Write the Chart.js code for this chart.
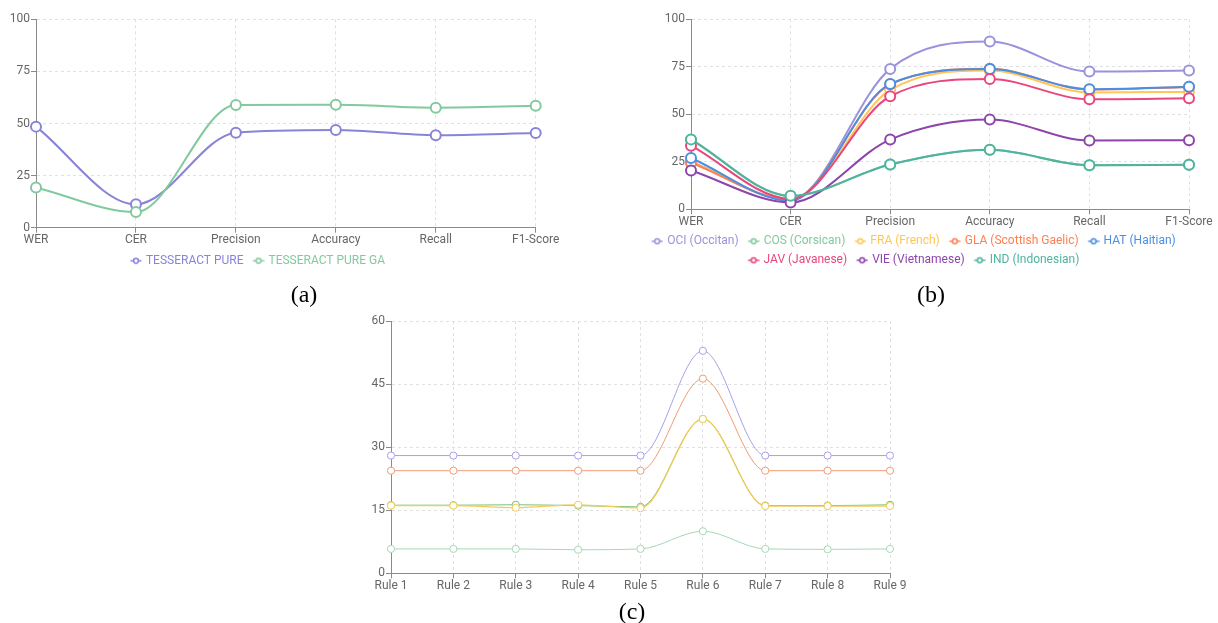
<!DOCTYPE html>
<html>
<head>
<meta charset="utf-8">
<script src="https://cdn.jsdelivr.net/npm/chart.js@4"></script>
<style>
html,body{margin:0;padding:0;background:#fff;}
body{width:1218px;height:623px;overflow:hidden;position:relative;}
canvas{position:absolute;}
.cap{position:absolute;font-family:"Liberation Serif","Times New Roman",serif;font-size:24px;line-height:1;color:#000;transform:translate(-50%,-50%);white-space:nowrap;}
</style>
</head>
<body>
<canvas id="chartA" width="633" height="290" style="left:-60px;top:0px;"></canvas>
<canvas id="chartB" width="611" height="290" style="left:607px;top:0px;"></canvas>
<canvas id="chartC" width="600" height="310" style="left:330px;top:300px;"></canvas>
<div class="cap" style="left:304px;top:294px;">(a)</div>
<div class="cap" style="left:931px;top:294px;">(b)</div>
<div class="cap" style="left:632px;top:611px;">(c)</div>
<script>
// ---------- DATA ----------
const metricLabels = ['WER', 'CER', 'Precision', 'Accuracy', 'Recall', 'F1-Score'];
const yTicksMetric = [0, 25, 50, 75, 100];

// (a)
const seriesNamesA = ['TESSERACT PURE', 'TESSERACT PURE GA'];
const tesseractPure   = [48.5, 11.2, 45.6, 46.9, 44.4, 45.4];
const tesseractPureGA = [19.3, 7.5, 58.9, 59.0, 57.6, 58.5];

// (b)
const langNames = ['OCI (Occitan)', 'COS (Corsican)', 'FRA (French)', 'GLA (Scottish Gaelic)', 'HAT (Haitian)', 'JAV (Javanese)', 'VIE (Vietnamese)', 'IND (Indonesian)'];
const ociValues = [25.0, 5.0, 73.9, 88.3, 72.5, 73.0];
const cosValues = [36.6, 6.9, 23.6, 31.3, 23.2, 23.4];
const fraValues = [25.0, 5.0, 62.8, 73.0, 61.5, 61.8];
const glaValues = [24.5, 5.2, 65.8, 74.0, 63.0, 64.4];
const hatValues = [27.0, 4.5, 66.0, 73.8, 63.2, 64.5];
const javValues = [33.5, 5.5, 59.5, 68.6, 57.9, 58.4];
const vieValues = [20.4, 3.6, 36.7, 47.2, 36.2, 36.4];
const indValues = [36.8, 7.1, 23.6, 31.3, 23.2, 23.4];

// (c)
const ruleLabels = ['Rule 1', 'Rule 2', 'Rule 3', 'Rule 4', 'Rule 5', 'Rule 6', 'Rule 7', 'Rule 8', 'Rule 9'];
const yTicksRule = [0, 15, 30, 45, 60];
const ruleSeries1 = [28.0, 28.0, 28.0, 28.0, 28.0, 52.9, 28.0, 28.0, 28.0];
const ruleSeries2 = [24.4, 24.4, 24.4, 24.4, 24.4, 46.3, 24.4, 24.4, 24.4];
const ruleSeries3 = [16.2, 16.2, 16.3, 16.1, 15.8, 36.7, 16.1, 16.1, 16.3];
const ruleSeries4 = [16.1, 16.1, 15.6, 16.3, 15.5, 36.7, 16.0, 16.0, 16.0];
const ruleSeries5 = [5.8, 5.8, 5.8, 5.6, 5.8, 10.0, 5.8, 5.7, 5.8];

// ---------- STYLE HELPERS ----------
const FONT = 'Roboto';
function legendIcon(color) {
  const c = document.createElement('canvas');
  c.width = 16; c.height = 8;
  const g = c.getContext('2d');
  g.strokeStyle = color; g.lineWidth = 1.5;
  g.beginPath(); g.moveTo(4.5, 4); g.lineTo(15.5, 4); g.stroke();
  g.beginPath(); g.arc(10, 4, 2.4, 0, Math.PI * 2);
  g.fillStyle = '#fff'; g.fill(); g.stroke();
  return c;
}
function legendLabels(chart) {
  const items = Chart.defaults.plugins.legend.labels.generateLabels(chart);
  items.forEach(it => {
    const d = chart.data.datasets[it.datasetIndex];
    it.fontColor = d.borderColor;
    it.pointStyle = legendIcon(d.borderColor);
  });
  return items;
}
function line(label, data, color, i, thin, w) {
  return {
    label, data,
    borderColor: color,
    backgroundColor: '#fff',
    pointBackgroundColor: '#fff',
    pointBorderColor: color,
    borderWidth: w || (thin ? 1 : 2),
    pointRadius: thin ? 3.6 : 5,
    pointHoverRadius: thin ? 3.6 : 5,
    pointBorderWidth: thin ? 1 : 2,
    cubicInterpolationMode: 'monotone',
    fill: false,
    order: -i
  };
}
function scales(yTicks, yMax, yWidth, xHeight, xPadRight) {
  const grid = { color: '#e0e0e0', lineWidth: 1, tickLength: 5, tickColor: '#8a8a8a', tickWidth: 1 };
  const border = { color: '#8a8a8a', width: 1, dash: [3, 3] };
  const ticks = { color: '#666', font: { family: FONT, size: 12 } };
  return {
    x: {
      grid: Object.assign({}, grid), border: Object.assign({}, border),
      ticks: Object.assign({ padding: 0, maxRotation: 0, autoSkip: false }, ticks),
      afterFit: s => { s.height = xHeight; s.paddingLeft = 0; s.paddingRight = xPadRight; }
    },
    y: {
      min: 0, max: yMax,
      grid: Object.assign({}, grid), border: Object.assign({}, border),
      ticks: Object.assign({ padding: 1 }, ticks),
      afterBuildTicks: s => { s.ticks = yTicks.map(v => ({ value: v })); },
      afterFit: s => { s.width = yWidth; s.paddingTop = 0; s.paddingBottom = 0; }
    }
  };
}
function legendCfg(show) {
  return {
    display: show,
    position: 'bottom',
    labels: {
      usePointStyle: true,
      pointStyleWidth: 12,
      padding: 7,
      font: { family: FONT, size: 12 },
      generateLabels: legendLabels,
      sort: (a, b) => a.datasetIndex - b.datasetIndex
    }
  };
}
function baseOptions(sc, legendShow, pad) {
  return {
    responsive: false, animation: false,
    layout: { padding: pad },
    events: [],
    plugins: { legend: legendCfg(legendShow), tooltip: { enabled: false } },
    scales: sc
  };
}

// ---------- CHART (a) ----------
new Chart(document.getElementById('chartA'), {
  type: 'line',
  data: {
    labels: metricLabels,
    datasets: [
      line(seriesNamesA[0], tesseractPure, '#8884d8', 0),
      line(seriesNamesA[1], tesseractPureGA, '#82ca9d', 1)
    ]
  },
  options: baseOptions(scales(yTicksMetric, 100, 96, 20, 37.3), true, { top: 19.3, left: 0, right: 0, bottom: 13.3 })
});

// ---------- CHART (b) ----------
const langColors = ['#9893dc', '#82ca9d', '#ffc658', '#ff7f50', '#4a8fe2', '#e8467c', '#8e44ad', '#4fb3a0'];
const langValues = [ociValues, cosValues, fraValues, glaValues, hatValues, javValues, vieValues, indValues];
new Chart(document.getElementById('chartB'), {
  type: 'line',
  data: {
    labels: metricLabels,
    datasets: langNames.map((n, i) => line(n, langValues[i], langColors[i], i))
  },
  options: baseOptions(scales(yTicksMetric, 100, 84, 19, 29), true, { top: 19.3, left: 0, right: 0, bottom: 13.7 })
});

// ---------- CHART (c) ----------
const ruleNames = ['Series 1', 'Series 2', 'Series 3', 'Series 4', 'Series 5'];
const ruleColors = ['#a5a1e6', '#f29a74', '#79c079', '#f3cb55', '#a6d8b4'];
const ruleValues = [ruleSeries1, ruleSeries2, ruleSeries3, ruleSeries4, ruleSeries5];
const ruleWidths = [1, 1, 1, 1.25, 1];
new Chart(document.getElementById('chartC'), {
  type: 'line',
  data: {
    labels: ruleLabels,
    datasets: ruleNames.map((n, i) => line(n, ruleValues[i], ruleColors[i], i, true, ruleWidths[i]))
  },
  options: baseOptions(scales(yTicksRule, 60, 61, 20, 40), false, { top: 21, left: 0, right: 0, bottom: 16.7 })
});
</script>
</body>
</html>
